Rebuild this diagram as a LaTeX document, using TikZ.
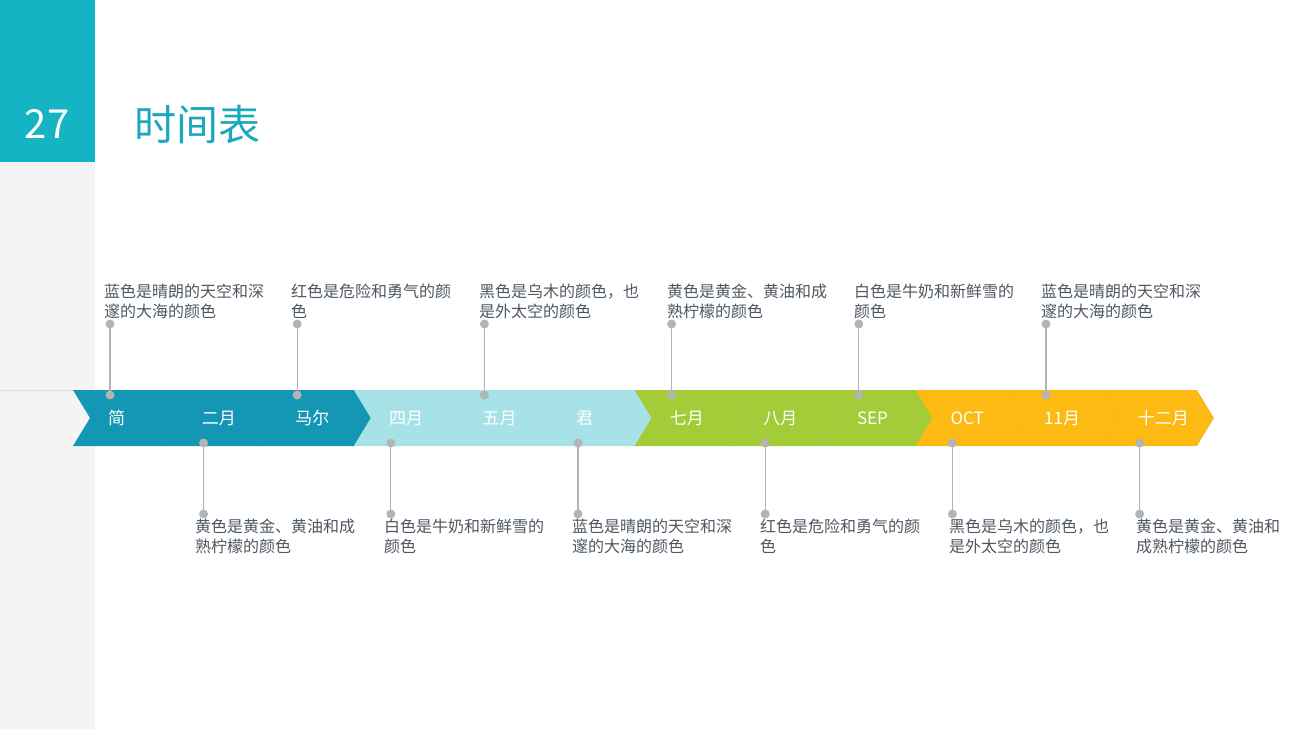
\documentclass[tikz,border=0pt]{standalone}
\usepackage{fontspec}
\setmainfont{Noto Sans CJK SC}
\definecolor{headteal}{HTML}{14B4C4}
\definecolor{titleteal}{HTML}{1BA8BD}
\definecolor{panelgray}{HTML}{F4F4F4}
\definecolor{cA}{HTML}{1497B5}
\definecolor{cB}{HTML}{A6E2E8}
\definecolor{cC}{HTML}{A4CC39}
\definecolor{cD}{HTML}{FDBA12}
\definecolor{dotgray}{HTML}{B4B4B4}
\definecolor{txtgray}{HTML}{4E5862}
\begin{document}
\begin{tikzpicture}[x=1pt,y=-1pt,
  monthlabel/.style={text=white,font=\fontsize{17}{20}\selectfont,inner sep=0pt,anchor=west},
  desc/.style={text=txtgray,font=\fontsize{16}{20}\selectfont,inner sep=0pt,anchor=north west,align=left},
  dotnode/.style={circle,fill=dotgray,minimum size=9pt,inner sep=0pt},
  stem/.style={draw=dotgray,line width=1.3pt}]
\useasboundingbox (0,0) rectangle (1296,729);
\fill[white] (0,0) rectangle (1296,729);
\fill[panelgray] (0,162) rectangle (95,729);
\fill[headteal] (0,0) rectangle (95,162);
\node[text=white,font=\fontsize{40}{44}\selectfont,inner sep=0pt] (num) at (47,124) {27};
\node[text=titleteal,font=\fontsize{42}{46}\selectfont,inner sep=0pt,anchor=west] (title) at (134,125) {时间表};
% faint shadow line
\draw[black!12,line width=0.8pt] (0,390.5) -- (73,390.5);
% chevrons
\foreach \i/\c/\t in {0/cA/简,1/cA/二月,2/cA/马尔,3/cB/四月,4/cB/五月,5/cB/君,6/cC/七月,7/cC/八月,8/cC/SEP,9/cD/OCT,10/cD/11月,11/cD/十二月}{
  \pgfmathsetmacro\xx{73+93.6*\i}
  \fill[\c] (\xx,390) -- ++(94,0) -- ++(17,28) -- ++(-17,28) -- ++(-94,0) -- ++(17,-28) -- cycle;
  \draw[\c!80!black,opacity=0.35,line width=0.8pt] (\xx+94,390) -- ++(17,28) -- ++(-17,28);
  \node[monthlabel] (m\i) at (\xx+35,418) {\t};
}
% top descriptions
\foreach \i/\tx/\t in {0/104/{蓝色是晴朗的天空和深\\邃的大海的颜色},2/291/{红色是危险和勇气的颜\\色},4/479/{黑色是乌木的颜色，也\\是外太空的颜色},6/667/{黄色是黄金、黄油和成\\熟柠檬的颜色},8/854/{白色是牛奶和新鲜雪的\\颜色},10/1041/{蓝色是晴朗的天空和深\\邃的大海的颜色}}{
  \pgfmathsetmacro\sx{73+93.6*\i+37}
  \draw[stem] (\sx,324) -- (\sx,395);
  \node[dotnode] (ta\i) at (\sx,324) {};
  \node[dotnode] (tb\i) at (\sx,395) {};
  \node[desc] (td\i) at (\tx,284) {\t};
}
% bottom descriptions
\foreach \i/\tx/\t in {1/195/{黄色是黄金、黄油和成\\熟柠檬的颜色},3/384/{白色是牛奶和新鲜雪的\\颜色},5/572/{蓝色是晴朗的天空和深\\邃的大海的颜色},7/760/{红色是危险和勇气的颜\\色},9/949/{黑色是乌木的颜色，也\\是外太空的颜色},11/1136/{黄色是黄金、黄油和\\成熟柠檬的颜色}}{
  \pgfmathsetmacro\sx{73+93.6*\i+37}
  \draw[stem] (\sx,443) -- (\sx,514);
  \node[dotnode] (ba\i) at (\sx,443) {};
  \node[dotnode] (bb\i) at (\sx,514) {};
  \node[desc] (bd\i) at (\tx,519) {\t};
}
\end{tikzpicture}
\end{document}
